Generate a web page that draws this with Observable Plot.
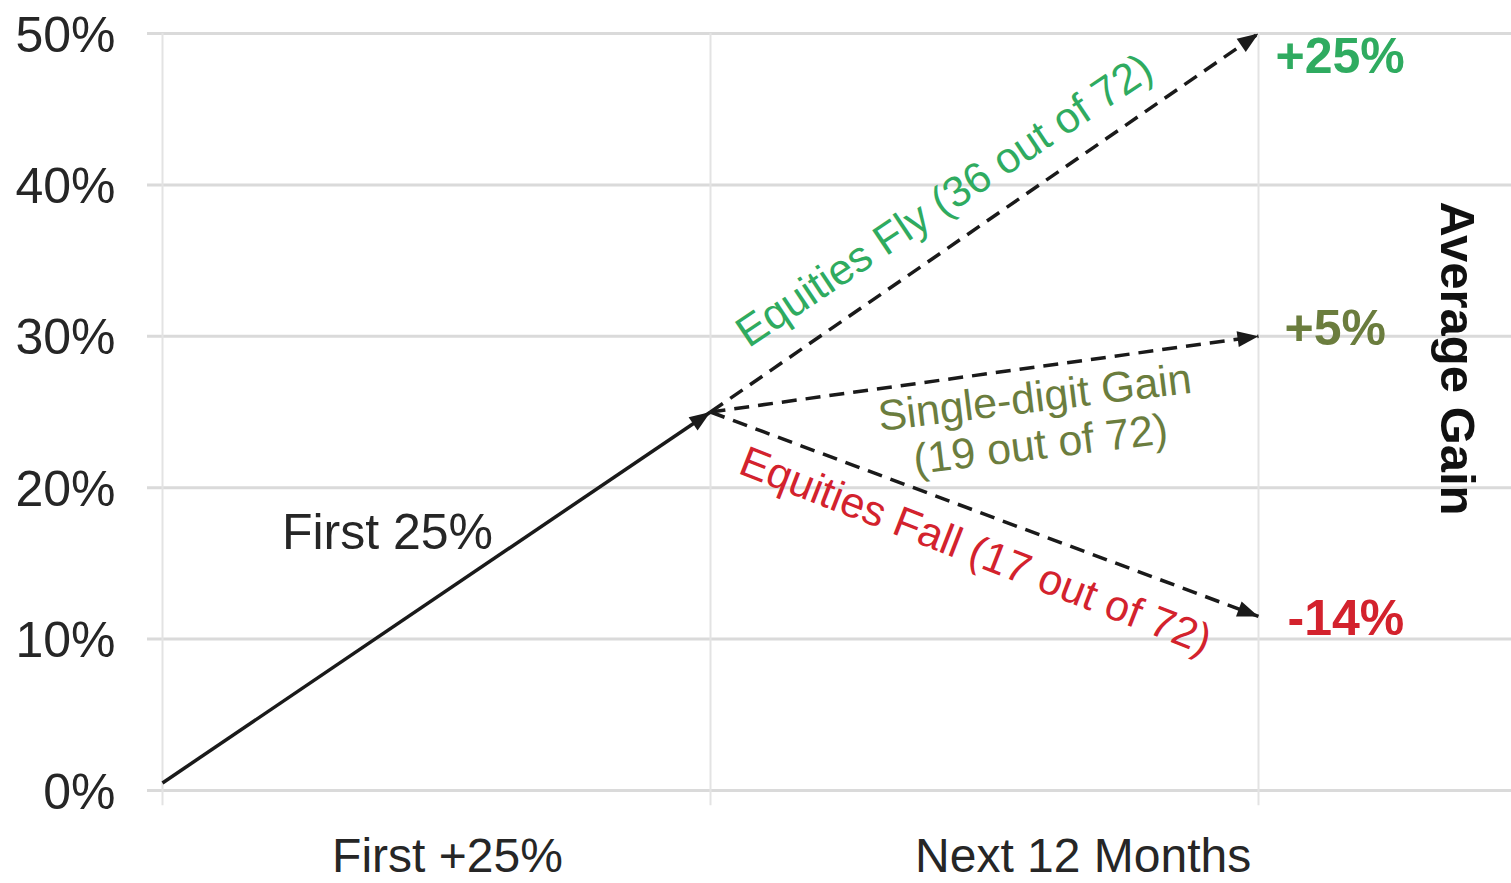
<!DOCTYPE html>
<html>
<head>
<meta charset="utf-8">
<script src="https://cdn.jsdelivr.net/npm/d3@7"></script>
<script src="https://cdn.jsdelivr.net/npm/@observablehq/plot@0.6"></script>
<style>
  html, body { margin: 0; padding: 0; background: #fff; }
  #chart { width: 1511px; height: 883px; overflow: hidden; }
</style>
</head>
<body>
<div id="chart"></div>
<script>
// ---- data ----
const stages = [0, 1, 2];                 // stage boundaries (start, after first +25%, after next 12 months)
const startGain = 0.5;
const firstLegGain = 25;
const firstLegLabel = "First 25%";
const outcomeNames = ["Equities Fly (36 out of 72)", "Single-digit Gain\n(19 out of 72)", "Equities Fall (17 out of 72)"];
const outcomeEnds = [50, 30, 11.5];
const outcomeLabels = ["+25%", "+5%", "-14%"];
const yTicks = [0, 10, 20, 30, 40, 50];
const xTickValues = [0.52, 1.68];
const xTickLabels = ["First +25%", "Next 12 Months"];
const sideTitle = "Average Gain";

// ---- styles ----
const FONT = "'Liberation Sans', Arial, Helvetica, sans-serif";
const outcomeColors = ["#2fab60", "#6b7d3e", "#d3222d"];
const routeStyle = [
  {rotate: -33.8, dx: -40, dy: -22},
  {rotate: -7, dx: 53, dy: 46, lineHeight: 1.1},
  {rotate: 21.3, dx: -9, dy: 37}
];
const endStyle = [
  {dx: 17, dy: 23},
  {dx: 26, dy: -7},
  {dx: 29, dy: 3}
];

// ---- derived tables ----
const firstLeg = [{x1: stages[0], y1: startGain, x2: stages[1], y2: firstLegGain, label: firstLegLabel}];
const outcomes = outcomeEnds.map((end, i) => ({
  name: outcomeNames[i], label: outcomeLabels[i],
  x1: stages[1], y1: firstLegGain, x2: stages[2], y2: end
}));

function triangleMarker(color, context) {
  const doc = (context && context.document) || document;
  const ns = "http://www.w3.org/2000/svg";
  const m = doc.createElementNS(ns, "marker");
  m.setAttribute("viewBox", "-24 -12 24 24");
  m.setAttribute("markerUnits", "userSpaceOnUse");
  m.setAttribute("markerWidth", "24");
  m.setAttribute("markerHeight", "24");
  m.setAttribute("refX", "0");
  m.setAttribute("refY", "0");
  m.setAttribute("orient", "auto");
  const p = doc.createElementNS(ns, "path");
  p.setAttribute("d", "M-21,-8L0,0L-21,8Z");
  p.setAttribute("fill", color);
  p.setAttribute("stroke", "none");
  p.setAttribute("stroke-dasharray", "none");
  m.appendChild(p);
  return m;
}

function build(marker) {
  const marks = [
    Plot.ruleY(yTicks, {stroke: "#dadada", strokeWidth: 3}),
    Plot.ruleX(stages, {y1: 50, y2: -1, stroke: "#e3e3e3", strokeWidth: 2}),
    // y tick labels
    Plot.text(yTicks, {y: d => d, frameAnchor: "left", textAnchor: "end", lineAnchor: "middle", dx: -32, dy: 2,
      text: d => d + "%", fontSize: 50, fill: "#262626", fontFamily: FONT}),
    // x labels
    Plot.text(xTickValues, {x: d => d, frameAnchor: "bottom", textAnchor: "middle", lineAnchor: "middle", dy: 66,
      text: (d, i) => xTickLabels[i], fontSize: 48, fill: "#262626", fontFamily: FONT}),
    // first leg arrow
    Plot.link(firstLeg, {x1: "x1", y1: "y1", x2: "x2", y2: "y2", stroke: "#1a1a1a", strokeWidth: 3.5, markerEnd: marker}),
    Plot.text(firstLeg, {x: d => (d.x1 + d.x2) / 2, y: d => (d.y1 + d.y2) / 2, text: "label",
      dx: -49, dy: -64, fontSize: 50, fill: "#262626", fontFamily: FONT}),
    // outcome arrows
    Plot.link(outcomes, {x1: "x1", y1: "y1", x2: "x2", y2: "y2", stroke: "#1a1a1a", strokeWidth: 3.5,
      strokeDasharray: "15,9", markerEnd: marker}),
    // side title
    Plot.text([sideTitle], {frameAnchor: "top-right", textAnchor: "middle", lineAnchor: "middle",
      dx: -55, dy: 325, rotate: 90, text: d => d,
      fontSize: 49, fontWeight: "bold", fill: "#111", fontFamily: FONT})
  ];
  outcomes.forEach((o, i) => {
    marks.push(Plot.text([o], {
      x: d => (d.x1 + d.x2) / 2, y: d => (d.y1 + d.y2) / 2, text: "name",
      fontSize: 43, fill: outcomeColors[i], fontFamily: FONT, ...routeStyle[i]
    }));
    marks.push(Plot.text([o], {
      x: "x2", y: "y2", text: "label", textAnchor: "start",
      fontSize: 50, fontWeight: "bold", fill: outcomeColors[i], fontFamily: FONT, ...endStyle[i]
    }));
  });
  return Plot.plot({
    width: 1511, height: 883,
    marginTop: 33, marginBottom: 93, marginLeft: 147, marginRight: 0,
    x: {domain: [0, 2], range: [162, 1258], axis: null},
    y: {domain: [0, 50], axis: null},
    style: {fontFamily: FONT, background: "white", overflow: "visible"},
    marks
  });
}

let chart;
try { chart = build(triangleMarker); } catch (e) { chart = build("arrow"); }
document.getElementById("chart").appendChild(chart);
</script>
</body>
</html>
